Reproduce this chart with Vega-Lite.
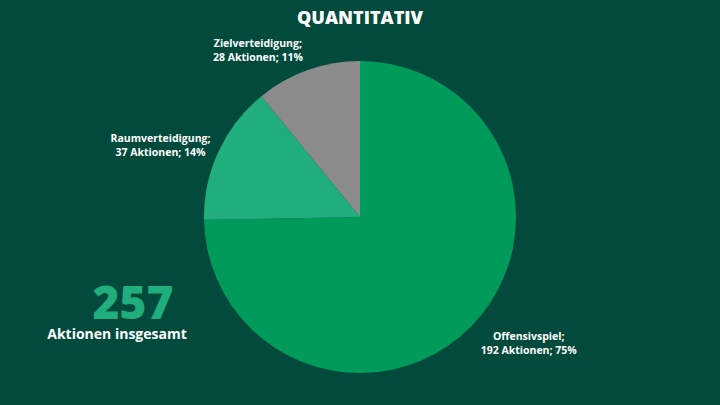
{
  "$schema": "https://vega.github.io/schema/vega-lite/v6.json",
  "width": 720,
  "height": 376,
  "autosize": {"type": "none"},
  "padding": {"top": 29, "left": 0, "right": 0, "bottom": 0},
  "background": "#014a3c",
  "config": {"view": {"stroke": null}},
  "datasets": {
    "pie": [
      {"name": "Offensivspiel", "count": 192, "label": ["Offensivspiel;", "192 Aktionen; 75%"]},
      {"name": "Raumverteidigung", "count": 37, "label": ["Raumverteidigung;", "37 Aktionen; 14%"]},
      {"name": "Zielverteidigung", "count": 28, "label": ["Zielverteidigung;", "28 Aktionen; 11%"]}
    ],
    "total": [{"heading": "QUANTITATIV", "total": "257", "caption": "Aktionen insgesamt"}]
  },
  "layer": [
    {
      "data": {"name": "pie"},
      "mark": {"type": "arc", "outerRadius": 156},
      "encoding": {
        "theta": {"field": "count", "type": "quantitative", "stack": true},
        "color": {"field": "name", "type": "nominal", "legend": null,
          "scale": {"domain": ["Offensivspiel", "Raumverteidigung", "Zielverteidigung"], "range": ["#009b5b", "#20ae7c", "#8b8b8b"]}}
      }
    },
    {
      "data": {"name": "pie"},
      "mark": {"type": "text", "radius": 200, "dx": 26, "dy": -20, "align": "center", "baseline": "middle", "font": "Open Sans", "fontWeight": 700, "fontSize": 10.5, "lineHeight": 14, "color": "white"},
      "encoding": {
        "theta": {"field": "count", "type": "quantitative", "stack": true},
        "detail": {"field": "name", "type": "nominal"},
        "text": {"condition": {"test": "datum.name === 'Offensivspiel'", "field": "label"}, "value": ""}
      }
    },
    {
      "data": {"name": "pie"},
      "mark": {"type": "text", "radius": 200, "dx": -18, "dy": 6, "align": "center", "baseline": "middle", "font": "Open Sans", "fontWeight": 700, "fontSize": 10.5, "lineHeight": 14, "color": "white"},
      "encoding": {
        "theta": {"field": "count", "type": "quantitative", "stack": true},
        "detail": {"field": "name", "type": "nominal"},
        "text": {"condition": {"test": "datum.name === 'Raumverteidigung'", "field": "label"}, "value": ""}
      }
    },
    {
      "data": {"name": "pie"},
      "mark": {"type": "text", "radius": 200, "dx": -35, "dy": 15.5, "align": "center", "baseline": "middle", "font": "Open Sans", "fontWeight": 700, "fontSize": 10.5, "lineHeight": 14, "color": "white"},
      "encoding": {
        "theta": {"field": "count", "type": "quantitative", "stack": true},
        "detail": {"field": "name", "type": "nominal"},
        "text": {"condition": {"test": "datum.name === 'Zielverteidigung'", "field": "label"}, "value": ""}
      }
    },
    {
      "data": {"name": "total"},
      "mark": {"type": "text", "dy": -198, "align": "center", "baseline": "middle", "font": "Open Sans", "fontWeight": 800, "fontSize": 18, "color": "white"},
      "encoding": {"text": {"field": "heading", "type": "nominal"}}
    },
    {
      "data": {"name": "total"},
      "mark": {"type": "text", "dx": -227, "dy": 88, "align": "center", "baseline": "middle", "font": "Open Sans", "fontWeight": 800, "fontSize": 46, "color": "#20ae7c"},
      "encoding": {"text": {"field": "total", "type": "nominal"}}
    },
    {
      "data": {"name": "total"},
      "mark": {"type": "text", "dx": -243, "dy": 118, "align": "center", "baseline": "middle", "font": "Open Sans", "fontWeight": 700, "fontSize": 14, "color": "white"},
      "encoding": {"text": {"field": "caption", "type": "nominal"}}
    }
  ]
}
